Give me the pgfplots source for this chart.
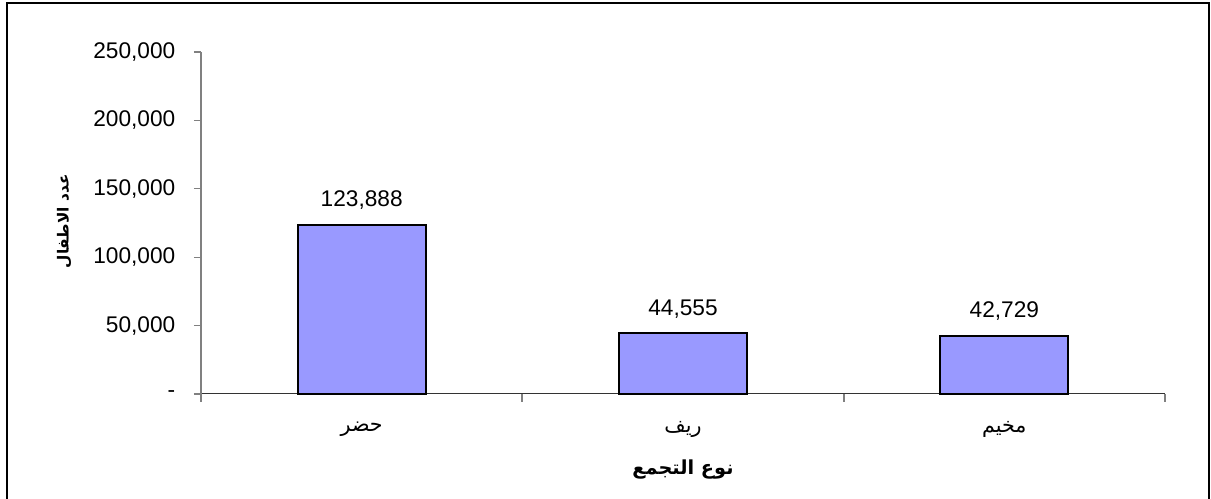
\documentclass[border=0pt]{standalone}
\usepackage{fontspec}
\usepackage{pgfplots}
\pgfplotsset{compat=1.18}
\setmainfont{Liberation Sans}
\newfontfamily\arabicfont[Script=Arabic]{DejaVu Sans}
\TeXXeTstate=1
\definecolor{barblue}{RGB}{153,153,255}
\definecolor{axgray}{RGB}{128,128,128}
% 1 px of the reference = 0.75pt
\def\px{0.75pt}
\begin{document}
\begin{tikzpicture}[x=\px,y=\px]
\begin{axis}[
    at={(0pt,0pt)}, anchor=south west,
    scale only axis,
    width=964*\px, height=342*\px,
    ymin=0, ymax=250000,
    xmin=-0.5, xmax=2.5,
    scaled y ticks=false,
    ytick={0,50000,100000,150000,200000,250000},
    yticklabels={{-},{50,000},{100,000},{150,000},{200,000},{250,000}},
    xtick={0,1,2},
    xticklabels={{\arabicfont\beginR حضر\endR},{\arabicfont\beginR ريف\endR},{\arabicfont\beginR مخيم\endR}},
    minor xtick={-0.5,0.5,1.5,2.5},
    axis x line*=bottom,
    axis y line*=left,
    axis line style={-},
    x axis line style={draw=black!80, line width=0.75pt},
    y axis line style={draw=axgray, line width=1.5pt},
    tick align=outside,
    major tick length=7*\px,
    minor tick length=8*\px,
    xtick style={draw=none},
    minor x tick style={draw=axgray, line width=1.5pt},
    ytick style={draw=axgray, line width=1pt},
    tick label style={font=\fontsize{17}{20}\selectfont},
    yticklabel style={xshift=-14*\px},
    xticklabel style={font=\fontsize{15.5}{18}\selectfont, anchor=center, yshift=-28*\px},
    xlabel={\arabicfont\bfseries\beginR نوع التجمع\endR},
    ylabel={\arabicfont\bfseries\beginR عدد الاطفال\endR},
    xlabel style={at={(axis description cs:0.5,-0.222)}, anchor=center, font=\fontsize{14.5}{17}\selectfont},
    ylabel style={at={(axis description cs:-0.142,0.505)}, anchor=center, font=\fontsize{11.5}{14}\selectfont},
    ybar,
    bar width=0.398,
    point meta=explicit symbolic,
    nodes near coords,
    nodes near coords style={font=\fontsize{17}{20}\selectfont, anchor=south, inner sep=0pt, yshift=14*\px},
    clip=false,
]
\addplot[fill=barblue, draw=black, line width=1.5pt] table[x=x, y=y, meta=lab] {
x y lab
0 123888 123,888
1 44555 44,555
2 42729 42,729
};
\end{axis}
\pgfresetboundingbox
\path[use as bounding box] (-201,-105) rectangle (1010,394);
\draw[line width=2.2*\px] (-194,-110) -- (-194,391) -- (1008,391) -- (1008,-110);
\end{tikzpicture}
\end{document}
